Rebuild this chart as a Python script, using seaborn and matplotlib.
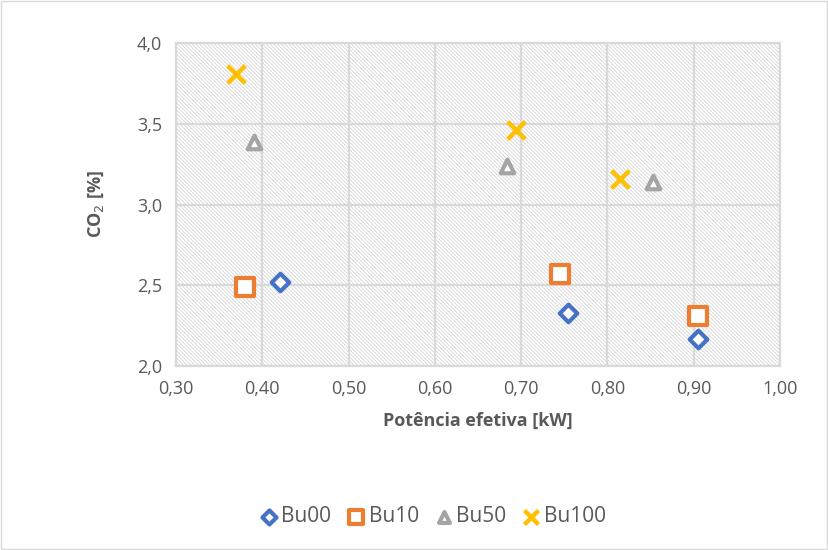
import matplotlib
matplotlib.use("Agg")
import matplotlib.pyplot as plt
from matplotlib.patches import Rectangle
import seaborn as sns
import pandas as pd

series = ["Bu00", "Bu10", "Bu50", "Bu100"]
bu00_x = [0.42, 0.754, 0.905]
bu00_y = [2.52, 2.33, 2.17]
bu10_x = [0.38, 0.745, 0.905]
bu10_y = [2.49, 2.57, 2.31]
bu50_x = [0.39, 0.683, 0.853]
bu50_y = [3.39, 3.24, 3.14]
bu100_x = [0.37, 0.694, 0.814]
bu100_y = [3.81, 3.46, 3.16]

xticks = [0.30, 0.40, 0.50, 0.60, 0.70, 0.80, 0.90, 1.00]
yticks = [2.0, 2.5, 3.0, 3.5, 4.0]

colors = {"Bu00": "#4472C4", "Bu10": "#ED7D31", "Bu50": "#A5A5A5", "Bu100": "#FFC000"}
markers = {"Bu00": "D", "Bu10": "s", "Bu50": "^", "Bu100": "x"}

df = pd.concat([
    pd.DataFrame({"x": bu00_x, "y": bu00_y, "s": "Bu00"}),
    pd.DataFrame({"x": bu10_x, "y": bu10_y, "s": "Bu10"}),
    pd.DataFrame({"x": bu50_x, "y": bu50_y, "s": "Bu50"}),
    pd.DataFrame({"x": bu100_x, "y": bu100_y, "s": "Bu100"}),
])

sns.set_style("white")
plt.rcParams["font.family"] = ["Open Sans", "DejaVu Sans"]
plt.rcParams["hatch.color"] = "#d6d6d6"
plt.rcParams["hatch.linewidth"] = 0.6

fig = plt.figure(figsize=(8.29, 5.5), dpi=100)
ax = fig.add_axes([0.2123, 0.3345, 0.7287, 0.5873])
ax.set_facecolor("white")
ax.add_patch(Rectangle((0, 0), 1, 1, transform=ax.transAxes, facecolor="white",
                       edgecolor="#d6d6d6", linewidth=0, hatch="\\" * 9, zorder=0.5))

sizes = {"Bu00": 80, "Bu10": 150, "Bu50": 95}
for name in series:
    sub = df[df["s"] == name]
    c = colors[name]
    if name == "Bu100":
        sns.scatterplot(x=sub["x"], y=sub["y"], ax=ax, marker="x", s=160,
                        color=c, linewidth=3.2, zorder=5, label=name)
    else:
        sns.scatterplot(x=sub["x"], y=sub["y"], ax=ax, marker=markers[name], s=sizes[name],
                        facecolor="white", edgecolor=c, linewidth=3, zorder=5, label=name)

ax.set_xlim(0.30, 1.00)
ax.set_ylim(2.0, 4.0)
ax.set_xticks(xticks)
ax.set_yticks(yticks)
ax.set_xticklabels([f"{v:.2f}".replace(".", ",") for v in xticks])
ax.set_yticklabels([f"{v:.1f}".replace(".", ",") for v in yticks])
ax.grid(True, color="#d9d9d9", linewidth=1.6, zorder=1)
ax.set_axisbelow(True)
for sp in ax.spines.values():
    sp.set_color("#d9d9d9")
    sp.set_linewidth(1.6)
ax.tick_params(axis="both", length=0, labelsize=13, colors="#595959", pad=10)
ax.set_xlabel("Potência efetiva [kW]", fontsize=13, fontweight="bold", color="#595959", labelpad=10)
ax.set_ylabel("CO$_2$ [%]", fontsize=13, fontweight="bold", color="#595959", labelpad=22)

if ax.legend_ is not None:
    ax.legend_.remove()
h, l = ax.get_legend_handles_labels()
fig.legend(h, l, loc="center", bbox_to_anchor=(0.52, 0.06), ncol=4, frameon=False,
           fontsize=15, labelcolor="#595959", handletextpad=0.0, columnspacing=0.6,
           markerscale=0.8, handlelength=1.2)

border = Rectangle((0.001, 0.001), 0.997, 0.997, transform=fig.transFigure, fill=False,
                   edgecolor="#d9d9d9", linewidth=1)
fig.patches.append(border)

fig.savefig("out.png", dpi=100)
